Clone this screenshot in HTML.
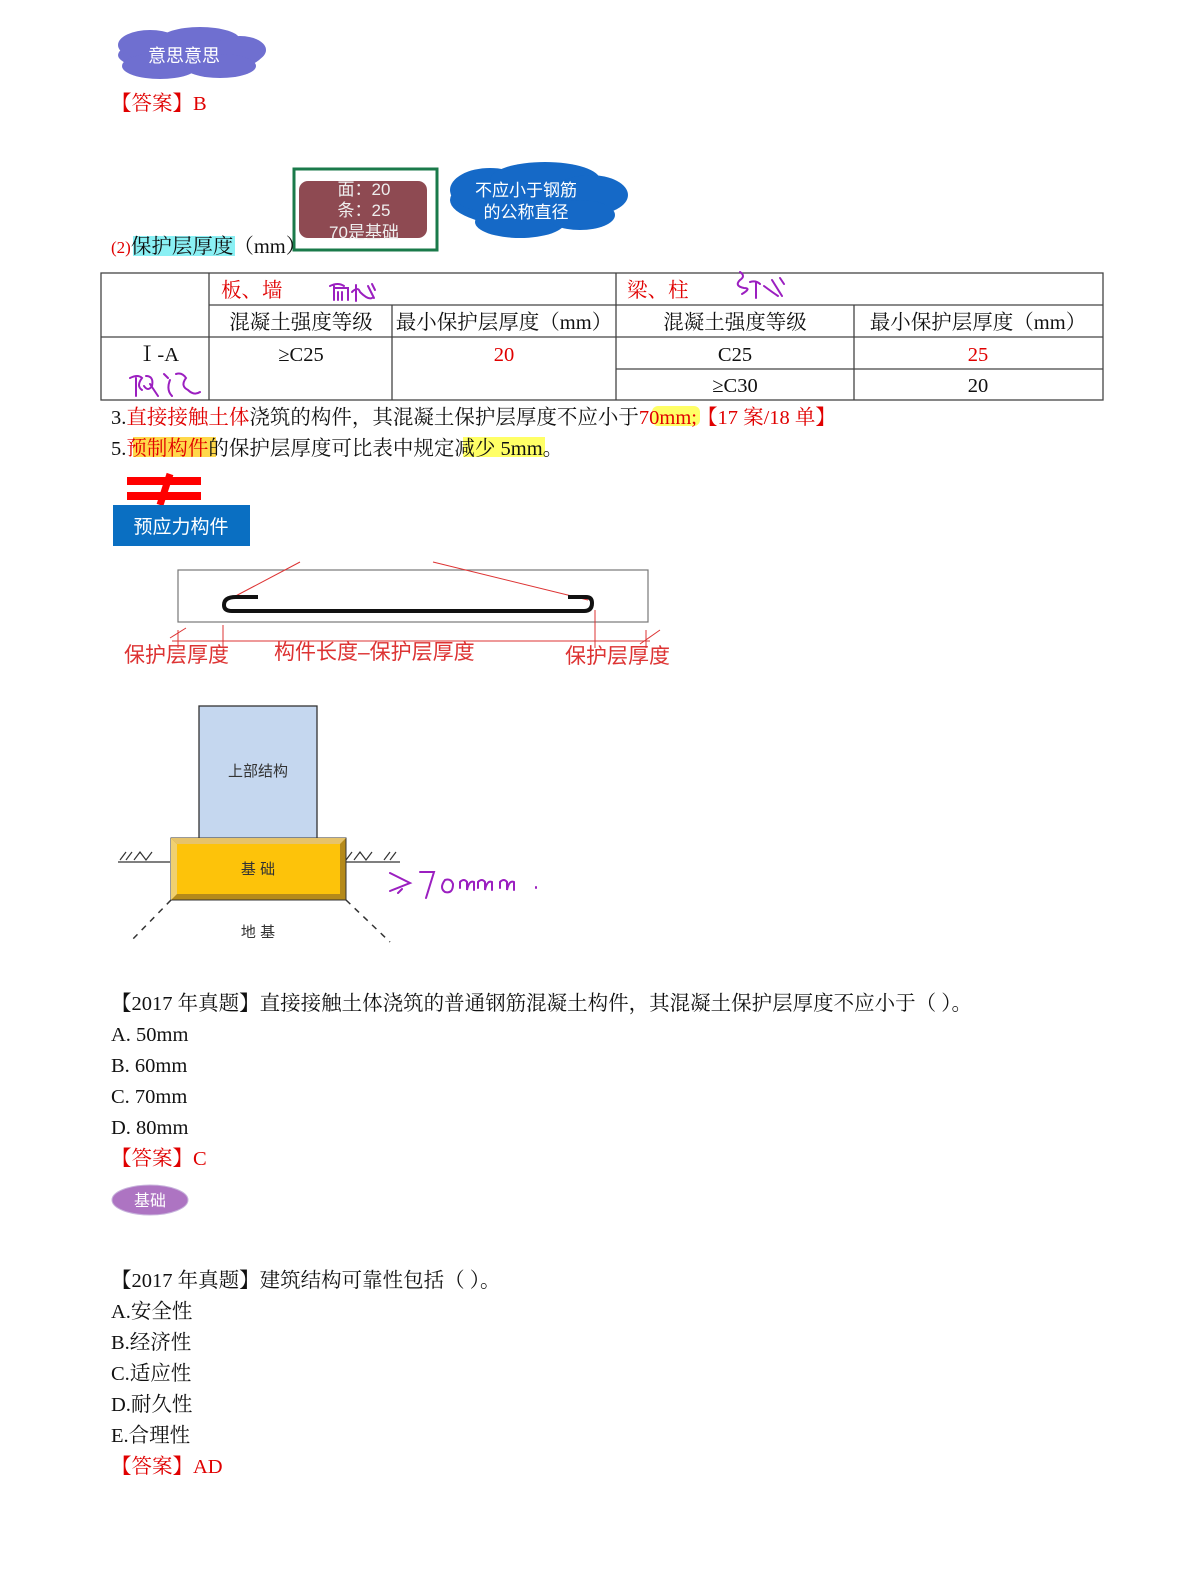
<!DOCTYPE html>
<html><head><meta charset="utf-8"><style>
html,body{margin:0;padding:0;background:#fff;width:1191px;height:1586px;overflow:hidden;}
svg{display:block;}
.t{font-family:"Liberation Serif","Noto Serif CJK SC",serif;font-size:20.5px;fill:#111;}
.r{fill:#e00000;}
.s{font-family:"Liberation Sans","Noto Sans CJK SC",sans-serif;}
.hw{fill:none;stroke:#9b1fc0;stroke-width:2;stroke-linecap:round;}
</style></head><body>
<svg width="1191" height="1586" viewBox="0 0 1191 1586" xmlns="http://www.w3.org/2000/svg">
<g fill="#6f6fd0">
<ellipse cx="190" cy="55" rx="72" ry="18"/>
<ellipse cx="150" cy="45" rx="32" ry="15"/><ellipse cx="200" cy="40" rx="40" ry="13"/>
<ellipse cx="240" cy="50" rx="26" ry="14"/><ellipse cx="160" cy="66" rx="38" ry="13"/><ellipse cx="220" cy="66" rx="36" ry="12"/>
</g>
<text class="s" x="184" y="62" font-size="18" fill="#fff" text-anchor="middle">意思意思</text>
<text class="t r" x="111" y="110">【答案】B</text>

<rect x="294" y="169" width="143" height="81" fill="#fff" stroke="#1a7a4a" stroke-width="3"/>
<rect x="299" y="181" width="128" height="57" rx="9" fill="#8e4a52"/>
<text class="s" x="364" y="195" font-size="17" fill="#eee" text-anchor="middle">面：20</text>
<text class="s" x="364" y="216" font-size="17" fill="#eee" text-anchor="middle">条：25</text>
<text class="s" x="364" y="238" font-size="17" fill="#eee" text-anchor="middle">70是基础</text>
<g fill="#1569c7">
<ellipse cx="535" cy="200" rx="85" ry="28"/>
<ellipse cx="490" cy="190" rx="40" ry="22"/><ellipse cx="545" cy="180" rx="55" ry="18"/>
<ellipse cx="590" cy="195" rx="38" ry="20"/><ellipse cx="520" cy="222" rx="45" ry="16"/><ellipse cx="580" cy="215" rx="35" ry="15"/>
</g>
<text class="s" x="526" y="196" font-size="17" fill="#fff" text-anchor="middle">不应小于钢筋</text>
<text class="s" x="526" y="218" font-size="17" fill="#fff" text-anchor="middle">的公称直径</text>

<rect x="133" y="236" width="102" height="20" fill="#8af0f4"/>
<text class="t" x="111" y="253"><tspan class="r" font-size="17">(2)</tspan>保护层厚度（mm）</text>

<g stroke="#444" stroke-width="1.3" fill="none">
<rect x="101" y="273" width="1002" height="127"/>
<line x1="209" y1="305" x2="1103" y2="305"/>
<line x1="101" y1="337" x2="1103" y2="337"/>
<line x1="616" y1="369" x2="1103" y2="369"/>
<line x1="209" y1="273" x2="209" y2="400"/>
<line x1="616" y1="273" x2="616" y2="400"/>
<line x1="392" y1="305" x2="392" y2="400"/>
<line x1="854" y1="305" x2="854" y2="400"/>
</g>
<text class="t r" x="221" y="297">板、墙</text>
<text class="t r" x="627" y="297">梁、柱</text>
<text class="t" x="301" y="329" text-anchor="middle">混凝土强度等级</text>
<text class="t" x="504" y="329" text-anchor="middle">最小保护层厚度（mm）</text>
<text class="t" x="735" y="329" text-anchor="middle">混凝土强度等级</text>
<text class="t" x="978" y="329" text-anchor="middle">最小保护层厚度（mm）</text>
<text class="t" x="158" y="361" text-anchor="middle">Ⅰ-A</text>
<text class="t" x="301" y="361" text-anchor="middle">≥C25</text>
<text class="t r" x="504" y="361" text-anchor="middle">20</text>
<text class="t" x="735" y="361" text-anchor="middle">C25</text>
<text class="t r" x="978" y="361" text-anchor="middle">25</text>
<text class="t" x="735" y="392" text-anchor="middle">≥C30</text>
<text class="t" x="978" y="392" text-anchor="middle">20</text>
<path class="hw" d="M330 286 q8 -4 14 0 M334 286 v14 M334 288 h14 v12 M338 292 v8 M342 292 v8 M352 292 q6 -6 8 0 M356 285 v16 M360 292 q8 8 12 6 M368 286 l6 12 M372 284 l3 6"/>
<path class="hw" d="M740 272 q6 4 0 8 q-6 6 4 8 q8 0 -2 6 M750 282 q6 -2 10 2 M756 282 v16 M764 286 q8 6 14 10 M772 280 l10 16 M780 278 l4 6"/>
<path class="hw" d="M130 378 q8 -4 12 0 q-6 8 0 12 M136 378 v18 M146 376 q8 0 6 10 q-4 6 -8 0 M150 384 l8 12 M164 374 l4 4 M170 380 q-4 10 2 16 M176 374 q6 -2 10 4 q-6 8 2 12 q6 6 12 2"/>

<rect x="652" y="406" width="48" height="20" rx="6" fill="#ffff66"/>
<text class="t" x="111" y="424">3.<tspan class="r">直接接触土体</tspan>浇筑的构件，其混凝土保护层厚度不应小于<tspan class="r">70mm;【17 案/18 单】</tspan></text>
<rect x="133" y="437" width="83" height="20" fill="#ffd84a"/>
<rect x="463" y="437" width="82" height="20" fill="#ffff66"/>
<text class="t" x="111" y="455">5.<tspan class="r">预制构件</tspan>的保护层厚度可比表中规定减少 5mm。</text>

<rect x="127" y="477" width="74" height="8" fill="#f00"/>
<rect x="127" y="492" width="74" height="8" fill="#f00"/>
<line x1="170" y1="474" x2="160" y2="505" stroke="#f00" stroke-width="7"/>
<rect x="113" y="505" width="137" height="41" fill="#0a6fc2"/>
<text class="s" x="181" y="533" font-size="19" fill="#fff" text-anchor="middle">预应力构件</text>

<rect x="178" y="570" width="470" height="52" fill="none" stroke="#777" stroke-width="1.2"/>
<line x1="228" y1="600" x2="300" y2="562" stroke="#d33" stroke-width="1"/>
<line x1="433" y1="562" x2="588" y2="600" stroke="#d33" stroke-width="1"/>
<path d="M258 597 h-22 q-12 0 -12 8 q0 6 8 6 h352 q8 0 8 -8 q0 -6 -6 -6 h-18" fill="none" stroke="#111" stroke-width="4"/>
<line x1="172" y1="641" x2="650" y2="641" stroke="#d33" stroke-width="1"/>
<line x1="223" y1="625" x2="223" y2="648" stroke="#d33" stroke-width="1"/>
<line x1="595" y1="610" x2="595" y2="648" stroke="#d33" stroke-width="1"/>
<line x1="170" y1="638" x2="186" y2="628" stroke="#d33"/><line x1="178" y1="630" x2="178" y2="648" stroke="#d33"/>
<line x1="640" y1="644" x2="660" y2="630" stroke="#d33"/><line x1="646" y1="630" x2="646" y2="648" stroke="#d33"/>
<g class="s" font-size="21" fill="#d33">
<text x="124" y="662">保护层厚度</text><text x="274" y="659">构件长度–保护层厚度</text><text x="565" y="663">保护层厚度</text></g>

<rect x="199" y="706" width="118" height="133" fill="#c5d7ef" stroke="#333" stroke-width="1.3"/>
<text class="s" x="258" y="776" font-size="15" fill="#333" text-anchor="middle">上部结构</text>
<rect x="171" y="838" width="175" height="62" fill="#b58a1a" stroke="#333"/>
<polygon points="171,838 346,838 340,844 177,844" fill="#e6c36a"/>
<polygon points="171,838 177,844 177,894 171,900" fill="#f0d070"/>
<rect x="177" y="844" width="163" height="50" fill="#fdc30a"/>
<text class="s" x="258" y="874" font-size="15" fill="#333" text-anchor="middle">基 础</text>
<g stroke="#333" stroke-width="1.2">
<line x1="118" y1="862" x2="170" y2="862"/><line x1="346" y1="862" x2="400" y2="862"/>
<path d="M120 860 l6 -8 M126 860 l6 -8 M134 860 l6 -8 l6 8 l6 -8 M346 860 l6 -8 M354 860 l6 -8 l6 8 l6 -8 M384 860 l6 -8 M390 860 l6 -8" fill="none"/>
</g>
<line x1="171" y1="900" x2="130" y2="942" stroke="#333" stroke-width="1.5" stroke-dasharray="6,6"/>
<line x1="346" y1="900" x2="390" y2="942" stroke="#333" stroke-width="1.5" stroke-dasharray="6,6"/>
<text class="s" x="258" y="937" font-size="15" fill="#333" text-anchor="middle">地 基</text>
<path class="hw" d="M390 873 l20 10 l-20 8 M398 893 l4 -4 M420 872 h14 l-8 26 M445 880 q-6 8 0 12 q8 2 8 -8 q-2 -6 -8 -4 M460 888 v-6 q4 -4 7 0 v8 q2 -10 7 -8 v8 M478 888 v-6 q4 -4 7 0 v8 q2 -10 7 -8 v8 M500 888 v-6 q4 -4 7 0 v8 q2 -10 7 -8 v8 M536 887 v1"/>

<text class="t" x="111" y="1010">【2017 年真题】直接接触土体浇筑的普通钢筋混凝土构件，其混凝土保护层厚度不应小于（ ）。</text>
<text class="t" x="111" y="1041">A.  50mm</text>
<text class="t" x="111" y="1072">B.  60mm</text>
<text class="t" x="111" y="1103">C.  70mm</text>
<text class="t" x="111" y="1134">D.  80mm</text>
<text class="t r" x="111" y="1165">【答案】C</text>
<ellipse cx="150" cy="1200" rx="38" ry="15" fill="#ad74c2" stroke="#c8b4dc"/>
<text class="s" x="150" y="1206" font-size="16" fill="#fff" text-anchor="middle">基础</text>

<text class="t" x="111" y="1287">【2017 年真题】建筑结构可靠性包括（  ）。</text>
<text class="t" x="111" y="1318">A.安全性</text>
<text class="t" x="111" y="1349">B.经济性</text>
<text class="t" x="111" y="1380">C.适应性</text>
<text class="t" x="111" y="1411">D.耐久性</text>
<text class="t" x="111" y="1442">E.合理性</text>
<text class="t r" x="111" y="1473">【答案】AD</text>
</svg>
</body></html>
